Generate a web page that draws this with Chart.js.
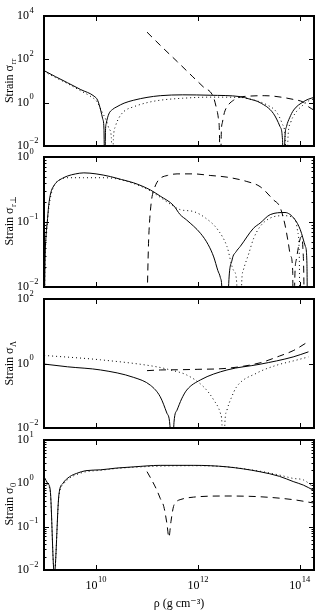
<!DOCTYPE html>
<html><head><meta charset="utf-8">
<script src="https://cdn.jsdelivr.net/npm/chart.js@4"></script>
<style>
html,body{margin:0;padding:0;background:#fff;}
#wrap{position:relative;width:321px;height:611px;overflow:hidden;background:#fff;}
canvas{position:absolute;left:0;top:0;}
</style></head><body>
<div id="wrap">
<canvas id="c1" width="321" height="611"></canvas>
<canvas id="c2" width="321" height="611"></canvas>
<canvas id="c3" width="321" height="611"></canvas>
<canvas id="c4" width="321" height="611"></canvas>
</div>
<script>
// ---- data: log10(rho) positions and strain values ----
// Panel 1: sigma_rr
const rrSolidLg = [8.98, 9.2, 9.44, 9.7, 9.96, 10.03, 10.09, 10.13, 10.155, 10.17, 10.185, 10.2, 10.25, 10.32, 10.41, 10.55, 10.74, 11.0, 11.26, 11.7, 12.24, 12.83, 13.0, 13.22, 13.48, 13.61, 13.66, 13.68, 13.71, 13.74, 13.8, 13.88, 14.07, 14.17, 14.28];
const rrSolid   = [30, 16, 8.3, 4.0, 2.0, 1.3, 0.46, 0.18, 0.06, 0.0003, 0.05, 0.11, 0.3, 0.48, 0.65, 0.95, 1.3, 1.75, 2.1, 2.3, 2.2, 1.9, 1.5, 1.0, 0.32, 0.08, 0.02, 0.0003, 0.03, 0.08, 0.2, 0.46, 1.1, 1.45, 1.75];
const rrDottedLg = [8.98, 9.2, 9.44, 9.7, 9.9, 10.02, 10.1, 10.2, 10.26, 10.3, 10.32, 10.34, 10.38, 10.45, 10.55, 10.74, 11.0, 11.26, 11.7, 12.24, 12.83, 13.0, 13.35, 13.55, 13.66, 13.71, 13.74, 13.77, 13.82, 13.9, 14.07, 14.17, 14.28];
const rrDotted   = [27, 14.5, 7.6, 3.5, 1.9, 1.1, 0.45, 0.15, 0.06, 0.025, 0.0003, 0.02, 0.08, 0.2, 0.4, 0.65, 1.0, 1.3, 1.6, 1.8, 1.75, 1.5, 0.8, 0.35, 0.1, 0.03, 0.0003, 0.03, 0.12, 0.3, 0.8, 1.2, 1.5];
const rrDashedLg = [11.0, 11.3, 11.6, 11.9, 12.1, 12.3, 12.36, 12.4, 12.42, 12.44, 12.46, 12.48, 12.52, 12.6, 12.7, 12.83, 13.0, 13.3, 13.48, 13.88, 14.07, 14.17, 14.28];
const rrDashed   = [1800, 360, 76, 15.6, 5.5, 1.9, 0.6, 0.2, 0.06, 0.0003, 0.05, 0.12, 0.35, 0.8, 1.3, 1.8, 2.0, 2.1, 2.0, 1.4, 1.05, 0.65, 0.45];

// Panel 2: sigma_r⊥
const rpSolidLg = [8.985, 9.0, 9.02, 9.04, 9.07, 9.11, 9.17, 9.24, 9.34, 9.44, 9.6, 9.76, 10.0, 10.28, 10.5, 10.74, 11.07, 11.26, 11.52, 11.65, 11.78, 12.05, 12.2, 12.31, 12.39, 12.44, 12.47, 12.535, 12.6, 12.67, 12.75, 12.83, 13.09, 13.22, 13.42, 13.71, 13.9, 14.01, 14.11, 14.14, 14.16];
const rpSolid   = [0.005, 0.03, 0.065, 0.096, 0.18, 0.28, 0.36, 0.42, 0.47, 0.51, 0.55, 0.57, 0.55, 0.50, 0.45, 0.40, 0.31, 0.25, 0.18, 0.13, 0.107, 0.067, 0.045, 0.029, 0.018, 0.014, 0.0095, 0.0001, 0.0095, 0.026, 0.035, 0.042, 0.08, 0.096, 0.13, 0.14, 0.11, 0.076, 0.042, 0.023, 0.0001];
const rpDottedLg = [8.985, 9.0, 9.03, 9.07, 9.12, 9.19, 9.3, 9.42, 9.75, 10.08, 10.34, 10.74, 11.07, 11.26, 11.45, 11.65, 11.91, 12.15, 12.39, 12.57, 12.7, 12.76, 12.81, 12.86, 12.89, 13.0, 13.09, 13.22, 13.42, 13.68, 13.91, 13.96, 13.99, 14.01];
const rpDotted   = [0.004, 0.025, 0.07, 0.16, 0.27, 0.38, 0.45, 0.48, 0.48, 0.48, 0.47, 0.39, 0.30, 0.24, 0.19, 0.155, 0.145, 0.115, 0.076, 0.042, 0.018, 0.012, 0.0001, 0.012, 0.018, 0.033, 0.055, 0.085, 0.115, 0.125, 0.11, 0.07, 0.03, 0.0001];
const rpDashedLg = [11.0, 11.03, 11.05, 11.09, 11.14, 11.19, 11.26, 11.4, 11.59, 11.91, 12.24, 12.57, 12.96, 13.22, 13.48, 13.61, 13.71, 13.77, 13.82, 13.86, 13.88, 13.9, 13.93, 13.97, 14.01, 14.04, 14.06, 14.08, 14.1];
const rpDashed   = [0.005, 0.047, 0.1, 0.22, 0.32, 0.40, 0.47, 0.52, 0.55, 0.55, 0.52, 0.49, 0.42, 0.35, 0.22, 0.17, 0.09, 0.05, 0.03, 0.018, 0.0001, 0.012, 0.026, 0.04, 0.056, 0.06, 0.04, 0.012, 0.0001];

// Panel 3: sigma_Λ
const laSolidLg = [8.98, 9.44, 10.09, 10.74, 11.07, 11.26, 11.39, 11.45, 11.49, 11.53, 11.59, 11.68, 11.78, 12.05, 12.57, 13.22, 13.87, 14.17];
const laSolid   = [0.96, 0.79, 0.63, 0.37, 0.21, 0.093, 0.029, 0.012, 0.0003, 0.015, 0.036, 0.08, 0.15, 0.31, 0.63, 0.95, 1.6, 2.3];
const laDottedLg = [8.98, 10.09, 11.19, 11.46, 11.78, 12.11, 12.31, 12.44, 12.47, 12.5, 12.53, 12.57, 12.66, 12.76, 13.15, 13.55, 13.87, 14.17];
const laDotted   = [1.78, 1.3, 0.79, 0.63, 0.44, 0.19, 0.074, 0.029, 0.015, 0.0003, 0.015, 0.036, 0.09, 0.19, 0.5, 0.89, 1.2, 1.6];
const laDashedLg = [11.0, 11.26, 11.6, 12.0, 12.57, 13.22, 13.6, 13.87, 14.17];
const laDashed   = [0.60, 0.63, 0.64, 0.66, 0.71, 1.05, 1.7, 2.5, 4.8];

// Panel 4: sigma_0
const zeSolidLg = [8.98, 9.05, 9.10, 9.18, 9.27, 9.35, 9.48, 9.62, 9.8, 10.09, 10.4, 10.74, 11.26, 11.91, 12.57, 13.22, 13.6, 13.87, 14.07, 14.28];
const zeSolid   = [1.42, 1.0, 0.7, 0.008, 0.54, 1.0, 1.42, 1.7, 1.96, 2.05, 2.25, 2.4, 2.6, 2.6, 2.4, 1.85, 1.45, 1.1, 0.91, 0.68];
const zeDottedLg = [8.98, 9.05, 9.10, 9.18, 9.27, 9.35, 9.48, 9.62, 9.8, 10.09, 10.4, 10.74, 11.26, 11.91, 12.57, 13.22, 13.6, 13.87, 14.07, 14.28];
const zeDotted   = [1.15, 0.9, 0.65, 0.008, 0.5, 0.92, 1.32, 1.6, 1.85, 2.0, 2.2, 2.35, 2.5, 2.55, 2.4, 1.9, 1.55, 1.3, 1.2, 0.8];
const zeDashedLg = [11.0, 11.1, 11.19, 11.26, 11.33, 11.39, 11.43, 11.47, 11.52, 11.58, 11.65, 11.91, 12.57, 13.22, 13.87, 14.28];
const zeDashed   = [1.86, 1.15, 0.71, 0.45, 0.29, 0.12, 0.057, 0.13, 0.29, 0.38, 0.42, 0.48, 0.51, 0.49, 0.42, 0.35];

// ---- tick labels ----
const xTicks  = [1e10, 1e12, 1e14];
const rrTicks = [1e-2, 1e0, 1e2, 1e4];
const rpTicks = [1e-2, 1e-1, 1e0];
const laTicks = [1e-2, 1e0, 1e2];
const zeTicks = [1e-2, 1e-1, 1e0, 1e1];
const xTitle = 'ρ (g cm⁻³)';
const yTitles = ['Strain σ', 'Strain σ', 'Strain σ', 'Strain σ'];
const ySubs = ['rr', 'r⊥', 'Λ', '0'];

// ---- drawing ----
const SERIF = '"Liberation Serif", "DejaVu Serif", serif';
const X_MIN = 9.5e8, X_MAX = 1.9e14;

function pts(lg, v) { return lg.map((l, i) => ({ x: Math.pow(10, l), y: v[i] })); }
function isDecade(v) { const l = Math.log10(v); return Math.abs(l - Math.round(l)) < 1e-6; }
function expStr(v) { const e = Math.round(Math.log10(v)); return e < 0 ? '\u2212' + (-e) : String(e); }

const DASH = { solid: [], dotted: [1, 3], dashed: [7, 5] };

const panels = [
  { id: 'c1', top: 16, bottom: 146, min: 1e-2, max: 1e4, ticks: rrTicks, minor: false, sub: ySubs[0], title: yTitles[0], spaces: '  ', last: false,
    series: [[rrSolidLg, rrSolid, 'solid'], [rrDottedLg, rrDotted, 'dotted'], [rrDashedLg, rrDashed, 'dashed']] },
  { id: 'c2', top: 157, bottom: 287, min: 1e-2, max: 1e0, ticks: rpTicks, minor: true, sub: ySubs[1], title: yTitles[1], spaces: '   ', last: false,
    series: [[rpSolidLg, rpSolid, 'solid'], [rpDottedLg, rpDotted, 'dotted'], [rpDashedLg, rpDashed, 'dashed']] },
  { id: 'c3', top: 299, bottom: 428, min: 1e-2, max: 1e2, ticks: laTicks, minor: false, sub: ySubs[2], title: yTitles[2], spaces: '  ', last: false,
    series: [[laSolidLg, laSolid, 'solid'], [laDottedLg, laDotted, 'dotted'], [laDashedLg, laDashed, 'dashed']] },
  { id: 'c4', top: 440, bottom: 570, min: 1e-2, max: 1e1, ticks: zeTicks, minor: true, sub: ySubs[3], title: yTitles[3], spaces: ' ', last: true,
    series: [[zeSolidLg, zeSolid, 'solid'], [zeDottedLg, zeDotted, 'dotted'], [zeDashedLg, zeDashed, 'dashed']] }
];

const TITLE_SIZE = 12, TITLE_PAD = 3;

const framePlugin = {
  id: 'frame',
  afterDraw(chart, args, o) {
    const { ctx, chartArea: a } = chart;
    const xs = chart.scales.x, ys = chart.scales.y;
    ctx.save();
    ctx.strokeStyle = '#000';
    ctx.fillStyle = '#000';
    ctx.lineWidth = 1;
    ctx.beginPath();
    xs.ticks.forEach(t => {
      const px = Math.round(xs.getPixelForValue(t.value)) + 0.5;
      ctx.moveTo(px, a.top); ctx.lineTo(px, a.top + 5);
      ctx.moveTo(px, a.bottom); ctx.lineTo(px, a.bottom - 5);
    });
    ys.ticks.forEach(t => {
      const py = Math.round(ys.getPixelForValue(t.value)) + 0.5;
      const len = isDecade(t.value) ? 5 : 2.5;
      ctx.moveTo(a.left, py); ctx.lineTo(a.left + len, py);
      ctx.moveTo(a.right, py); ctx.lineTo(a.right - len, py);
    });
    ctx.stroke();
    ctx.lineWidth = 2;
    ctx.strokeRect(a.left, a.top, a.right - a.left, a.bottom - a.top);

    // y tick labels: 10 with superscript exponent
    ctx.textBaseline = 'middle';
    ctx.textAlign = 'left';
    o.labels.forEach(v => {
      const py = ys.getPixelForValue(v);
      ctx.font = '12px ' + SERIF;
      const w = ctx.measureText('10').width;
      ctx.fillText('10', 17, py);
      ctx.font = '8.5px ' + SERIF;
      ctx.fillText(expStr(v), 17 + w + 0.5, py - 5.5);
    });
    // x tick labels on the last panel
    if (o.xLabels) {
      xTicks.forEach(v => {
        const px = xs.getPixelForValue(v);
        ctx.font = '12px ' + SERIF;
        const w = ctx.measureText('10').width;
        ctx.font = '8.5px ' + SERIF;
        const we = ctx.measureText(expStr(v)).width;
        const x0 = px - (w + we + 0.5) / 2;
        ctx.font = '12px ' + SERIF;
        ctx.fillText('10', x0, a.bottom + 16);
        ctx.font = '8.5px ' + SERIF;
        ctx.fillText(expStr(v), x0 + w + 0.5, a.bottom + 10);
      });
    }
    // subscript of the y title
    const tx = ys.left + TITLE_SIZE * 1.2 / 2 + TITLE_PAD;
    const ty = (ys.top + ys.bottom) / 2;
    ctx.font = TITLE_SIZE + 'px ' + SERIF;
    const wFull = ctx.measureText(o.title + o.spaces).width;
    const wMain = ctx.measureText(o.title).width;
    ctx.translate(tx, ty);
    ctx.rotate(-Math.PI / 2);
    ctx.font = '8.5px ' + SERIF;
    ctx.fillText(o.sub, -wFull / 2 + wMain + 0.5, 3.5);
    ctx.restore();
  }
};

panels.forEach(p => {
  const yTickVals = [];
  for (let e = Math.round(Math.log10(p.min)); e <= Math.round(Math.log10(p.max)); e++) {
    const d = Math.pow(10, e);
    if (p.ticks.includes(d)) yTickVals.push(d);
    if (p.minor && d < p.max) for (let k = 2; k <= 9; k++) yTickVals.push(d * k);
  }
  new Chart(document.getElementById(p.id), {
    type: 'line',
    data: {
      datasets: p.series.map(s => ({
        data: pts(s[0], s[1]),
        borderColor: '#000',
        borderWidth: 1,
        borderDash: DASH[s[2]],
        borderCapStyle: 'butt',
        pointRadius: 0,
        fill: false,
        cubicInterpolationMode: 'monotone'
      }))
    },
    options: {
      responsive: false,
      animation: false,
      devicePixelRatio: 1,
      events: [],
      layout: { padding: { left: 0, right: 7, top: p.top, bottom: p.last ? 0 : 611 - p.bottom } },
      plugins: {
        legend: { display: false },
        tooltip: { enabled: false },
        frame: { labels: p.ticks, xLabels: p.last, title: p.title, spaces: p.spaces, sub: p.sub }
      },
      scales: {
        x: {
          type: 'logarithmic', min: X_MIN, max: X_MAX, bounds: 'data',
          grid: { display: false }, border: { display: false },
          ticks: { display: false },
          title: p.last ? { display: true, text: xTitle, color: '#000', font: { family: SERIF, size: 12 }, padding: { top: 0, bottom: 0 } } : { display: false },
          afterBuildTicks: s => { s.ticks = xTicks.map(v => ({ value: v })); },
          afterFit: s => { s.height = p.last ? 41 : 0; }
        },
        y: {
          type: 'logarithmic', min: p.min, max: p.max, bounds: 'data',
          grid: { display: false }, border: { display: false },
          ticks: { display: false },
          title: { display: true, text: p.title + p.spaces, color: '#000', font: { family: SERIF, size: TITLE_SIZE }, padding: { top: TITLE_PAD, bottom: 0 } },
          afterBuildTicks: s => { s.ticks = yTickVals.map(v => ({ value: v })); },
          afterFit: s => { s.width = 44; }
        }
      }
    },
    plugins: [framePlugin]
  });
});
</script>
</body></html>
